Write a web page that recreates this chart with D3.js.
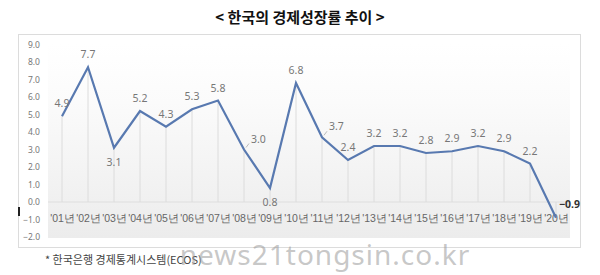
<!DOCTYPE html>
<html>
<head>
<meta charset="utf-8">
<script src="https://cdn.jsdelivr.net/npm/d3@7"></script>
<style>
  body { margin: 0; background: #fff; }
  svg { display: block; font-family: "Noto Sans CJK KR", "Noto Sans", sans-serif; }
</style>
</head>
<body>
<script>
// data
var years = ["'01년", "'02년", "'03년", "'04년", "'05년", "'06년", "'07년", "'08년", "'09년", "'10년",
             "'11년", "'12년", "'13년", "'14년", "'15년", "'16년", "'17년", "'18년", "'19년", "'20년"];
var growth = [4.9, 7.7, 3.1, 5.2, 4.3, 5.3, 5.8, 3.0, 0.8, 6.8,
              3.7, 2.4, 3.2, 3.2, 2.8, 2.9, 3.2, 2.9, 2.2, -0.9];
var yTicks = [9, 8, 7, 6, 5, 4, 3, 2, 1, 0, -1, -2];
// where the value label goes for each point
var labelPos = ["above", "above", "below", "above", "above", "above", "above", "right", "below", "above",
                "right", "above", "above", "above", "above", "above", "above", "above", "above", "last"];

var W = 600, H = 275;
var svg = d3.select("body").append("svg").attr("width", W).attr("height", H);

// title
svg.append("text")
    .attr("x", 300).attr("y", 23)
    .attr("text-anchor", "middle")
    .style("font-size", "15px").style("font-weight", "bold").style("fill", "#111")
    .text("< 한국의 경제성장률 추이 >");

// chart frame
svg.append("rect")
    .attr("x", 18.5).attr("y", 34.5).attr("width", 562).attr("height", 213)
    .attr("fill", "#fff").attr("stroke", "#dcdcdc");

var x = d3.scalePoint().domain(years).range([62, 556]);
var y = d3.scaleLinear().domain([-2, 9]).range([237, 44.5]);

// plot area gradient
var grad = svg.append("defs").append("linearGradient")
    .attr("id", "bg").attr("x1", 0).attr("y1", 0).attr("x2", 0).attr("y2", 1);
grad.append("stop").attr("offset", "0%").attr("stop-color", "#ffffff");
grad.append("stop").attr("offset", "30%").attr("stop-color", "#fbfbfb");
grad.append("stop").attr("offset", "100%").attr("stop-color", "#ececec");

svg.append("rect")
    .attr("x", 48).attr("y", 44).attr("width", 522).attr("height", 194)
    .attr("fill", "url(#bg)");

// y axis labels
var yAxis = d3.axisLeft(y).tickValues(yTicks).tickFormat(d3.format(".1f")).tickSize(0).tickPadding(0);
var gy = svg.append("g").attr("transform", "translate(40,0)").call(yAxis);
gy.select(".domain").remove();
gy.selectAll("text").style("font-size", "8.5px").style("fill", "#777").style("font-family", "Noto Sans, sans-serif");

// zero line
svg.append("line")
    .attr("x1", 48).attr("x2", 570).attr("y1", y(0)).attr("y2", y(0))
    .attr("stroke", "#dedede");

// drop lines
svg.selectAll(".drop").data(growth).enter().append("line")
    .attr("class", "drop")
    .attr("x1", function (d, i) { return x(years[i]); })
    .attr("x2", function (d, i) { return x(years[i]); })
    .attr("y1", function (d) { return y(d); })
    .attr("y2", y(0))
    .attr("stroke", "#dcdcdc").attr("stroke-width", 1);

// x axis labels
var xAxis = d3.axisBottom(x).tickSize(0).tickPadding(0);
var gx = svg.append("g").attr("transform", "translate(0,215)").call(xAxis);
gx.select(".domain").remove();
gx.selectAll("text").style("font-size", "10.5px").style("fill", "#666");

// the line
var line = d3.line()
    .x(function (d, i) { return x(years[i]); })
    .y(function (d) { return y(d); });

svg.append("path")
    .datum(growth)
    .attr("d", line)
    .attr("fill", "none")
    .attr("stroke", "#5879b0")
    .attr("stroke-width", 2.2)
    .attr("stroke-linejoin", "miter");

// leader lines for right-placed labels
svg.selectAll(".lead").data(growth.filter(function (d, i) { return labelPos[i] == "right"; })).enter()
    .append("line")
    .attr("x1", function (d) { return x(years[growth.indexOf(d)]) + 2; })
    .attr("y1", function (d) { return y(d) - 2; })
    .attr("x2", function (d) { return x(years[growth.indexOf(d)]) + 5; })
    .attr("y2", function (d) { return y(d) - 6; })
    .attr("stroke", "#bbb");

// value labels
svg.selectAll(".lbl").data(growth).enter().append("text")
    .attr("class", "lbl")
    .attr("x", function (d, i) {
        var p = labelPos[i];
        if (p == "right") return x(years[i]) + 7;
        if (p == "last") return x(years[i]) + 3;
        return x(years[i]);
    })
    .attr("y", function (d, i) {
        var p = labelPos[i];
        if (p == "below") return y(d) + 18;
        if (p == "right") return y(d) - 7;
        if (p == "last") return y(d) - 10;
        return y(d) - 9;
    })
    .attr("text-anchor", function (d, i) {
        var p = labelPos[i];
        return (p == "right" || p == "last") ? "start" : "middle";
    })
    .style("font-size", "10.5px")
    .style("font-family", "Noto Sans, sans-serif")
    .style("font-weight", function (d, i) { return labelPos[i] == "last" ? "bold" : "normal"; })
    .style("fill", function (d, i) { return labelPos[i] == "last" ? "#333" : "#777"; })
    .text(function (d) { return d3.format(".1f")(d); });

// little mark on left edge
svg.append("rect").attr("x", 18).attr("y", 207).attr("width", 2).attr("height", 9).attr("fill", "#222");

// footnote
svg.append("text")
    .attr("x", 45).attr("y", 264)
    .style("font-size", "11px").style("fill", "#444")
    .text("* 한국은행 경제통계시스템(ECOS)");

// watermark
svg.append("text")
    .attr("x", 325).attr("y", 265)
    .attr("text-anchor", "middle")
    .style("font-size", "28px").style("font-family", "Noto Sans, sans-serif")
    .style("letter-spacing", "1px")
    .style("fill", "#999").style("fill-opacity", 0.55)
    .text("news21tongsin.co.kr");
</script>
</body>
</html>
